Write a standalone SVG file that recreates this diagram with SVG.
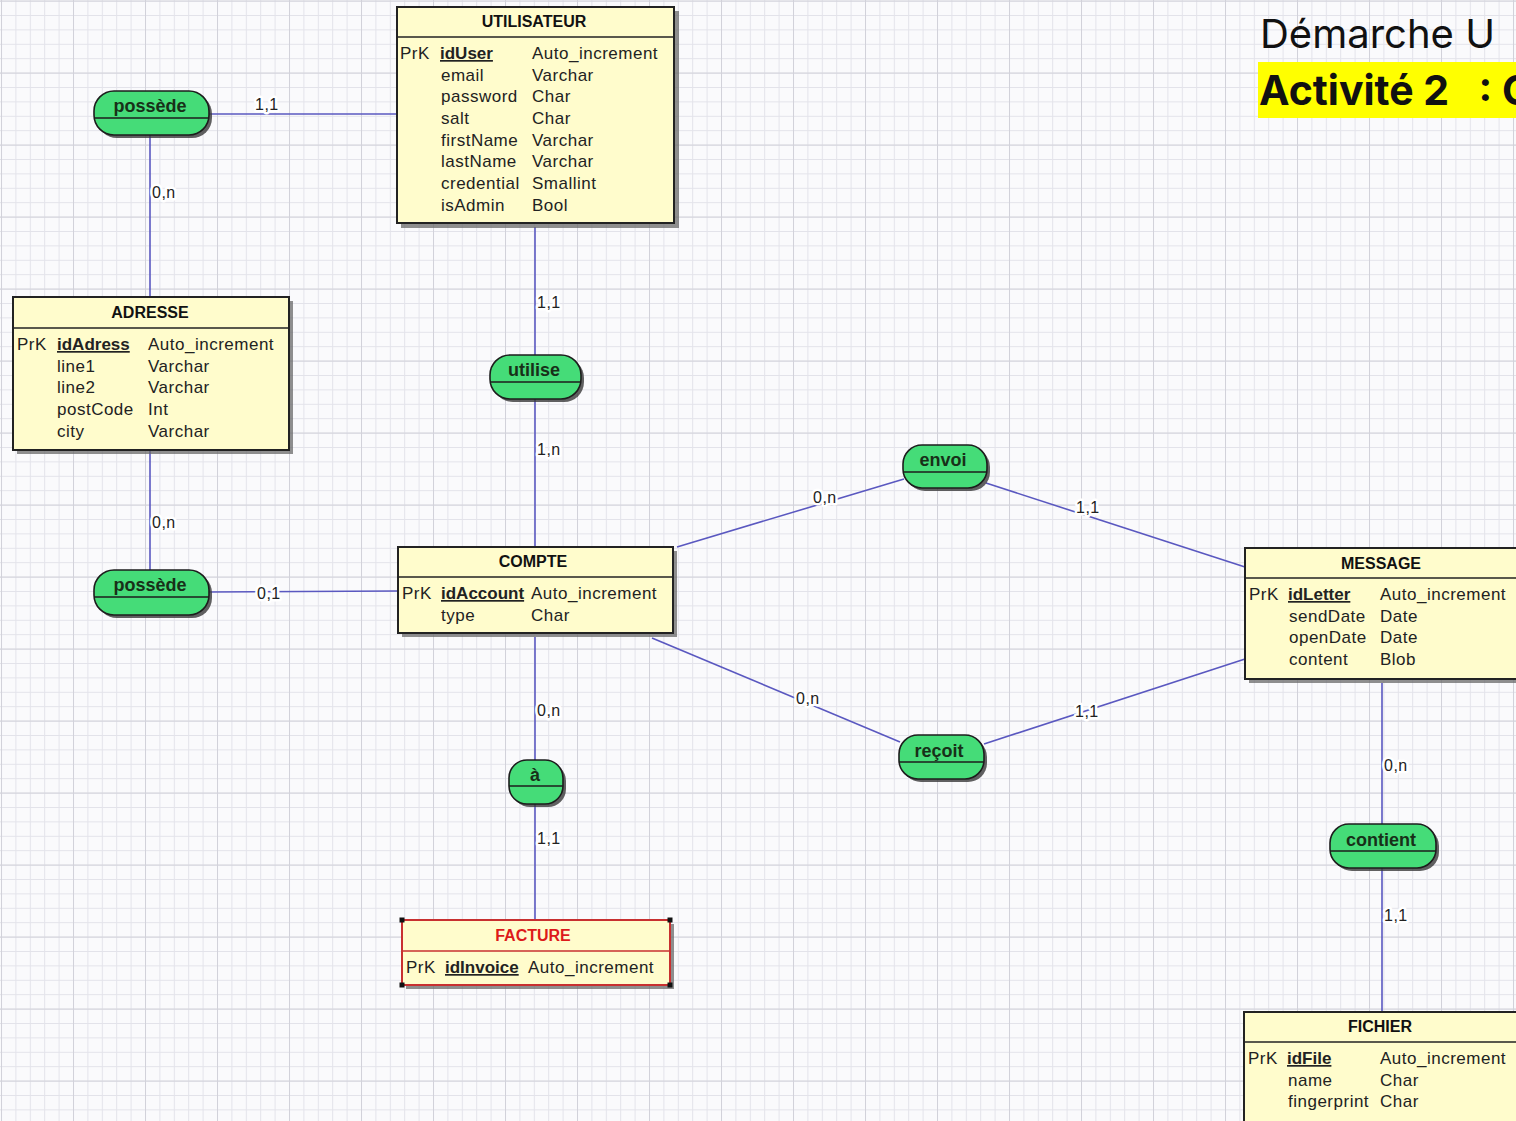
<svg xmlns="http://www.w3.org/2000/svg" width="1516" height="1121" viewBox="0 0 1516 1121">
<defs>
<pattern id="gmin" width="14.4" height="14.4" patternUnits="userSpaceOnUse" x="1" y="0.6">
<path d="M0 0.5H14.4M0.5 0V14.4" fill="none" stroke="#e3e3ea" stroke-width="1"/>
</pattern>
<pattern id="gmaj" width="72" height="72" patternUnits="userSpaceOnUse" x="1" y="0.6">
<path d="M0 0.5H72M0.5 0V72" fill="none" stroke="#d2d2da" stroke-width="1"/>
</pattern>
<style>
.ent{fill:#fffccc;stroke:#222;stroke-width:2}
.sh{fill:#6a6a6a;opacity:.75}
.t{font-family:"Liberation Sans",Arial,sans-serif;font-size:17px;letter-spacing:0.5px;fill:#222}
.h{font-family:"Liberation Sans",Arial,sans-serif;font-size:16px;font-weight:bold;fill:#111;text-anchor:middle}
.pk{font-weight:bold;text-decoration:underline;letter-spacing:0}
.bub{fill:#45dc78;stroke:#1d1d1d;stroke-width:1.6}
.bsh{fill:#3a3a3a;opacity:.8}
.bt{font-family:"Liberation Sans",Arial,sans-serif;font-size:18px;font-weight:bold;fill:#183018;text-anchor:middle}
.c{stroke:#5a58c0;stroke-width:1.6;fill:none}
.cl{font-family:"Liberation Sans",Arial,sans-serif;font-size:16px;letter-spacing:0.5px;fill:#222;stroke:#fff;stroke-width:5;paint-order:stroke;stroke-linejoin:round}
</style>
</defs>
<rect width="1516" height="1121" fill="#fafafc"/>
<rect width="1516" height="1121" fill="url(#gmin)"/>
<rect width="1516" height="1121" fill="url(#gmaj)"/>

<g id="connectors">
<path class="c" d="M209 114H397"/>
<path class="c" d="M150 135V297"/>
<path class="c" d="M150 450V571"/>
<path class="c" d="M209 592L397 591"/>
<path class="c" d="M535 227V355"/>
<path class="c" d="M535 399V547"/>
<path class="c" d="M535 637V760"/>
<path class="c" d="M535 804V920"/>
<path class="c" d="M677 547L904 479"/>
<path class="c" d="M986 483L1245 567"/>
<path class="c" d="M652 638L900 742"/>
<path class="c" d="M984 744L1245 659"/>
<path class="c" d="M1382 683V825"/>
<path class="c" d="M1382 868V1012"/>
<text class="cl" x="255" y="110">1,1</text>
<text class="cl" x="152" y="198">0,n</text>
<text class="cl" x="152" y="528">0,n</text>
<text class="cl" x="257" y="599">0,1</text>
<text class="cl" x="537" y="308">1,1</text>
<text class="cl" x="537" y="455">1,n</text>
<text class="cl" x="537" y="716">0,n</text>
<text class="cl" x="537" y="844">1,1</text>
<text class="cl" x="813" y="503">0,n</text>
<text class="cl" x="1076" y="513">1,1</text>
<text class="cl" x="796" y="704">0,n</text>
<text class="cl" x="1075" y="717">1,1</text>
<text class="cl" x="1384" y="771">0,n</text>
<text class="cl" x="1384" y="921">1,1</text>
</g>

<g id="utilisateur">
<rect class="sh" x="401" y="11" width="278" height="217"/>
<rect class="ent" x="397" y="7" width="277" height="216"/>
<path d="M397 37H674" stroke="#222" stroke-width="1.5"/>
<text class="h" x="534" y="27">UTILISATEUR</text>
<text class="t" x="400" y="59">PrK</text>
<text class="t pk" x="440" y="59">idUser</text>
<text class="t" x="532" y="59">Auto_increment</text>
<text class="t" x="441" y="81">email</text><text class="t" x="532" y="81">Varchar</text>
<text class="t" x="441" y="102">password</text><text class="t" x="532" y="102">Char</text>
<text class="t" x="441" y="124">salt</text><text class="t" x="532" y="124">Char</text>
<text class="t" x="441" y="146">firstName</text><text class="t" x="532" y="146">Varchar</text>
<text class="t" x="441" y="167">lastName</text><text class="t" x="532" y="167">Varchar</text>
<text class="t" x="441" y="189">credential</text><text class="t" x="532" y="189">Smallint</text>
<text class="t" x="441" y="211">isAdmin</text><text class="t" x="532" y="211">Bool</text>
</g>

<g id="possede1">
<rect class="bsh" x="97" y="94" width="115" height="44" rx="20"/>
<rect class="bub" x="94" y="91" width="115" height="44" rx="20"/>
<path d="M94 118H209" stroke="#1d1d1d" stroke-width="1.5"/>
<text class="bt" x="150" y="112">possède</text>
</g>

<g id="adresse">
<rect class="sh" x="17" y="301" width="276" height="153"/>
<rect class="ent" x="13" y="297" width="276" height="153"/>
<path d="M13 328H289" stroke="#222" stroke-width="1.5"/>
<text class="h" x="150" y="318">ADRESSE</text>
<text class="t" x="17" y="350">PrK</text>
<text class="t pk" x="57" y="350">idAdress</text>
<text class="t" x="148" y="350">Auto_increment</text>
<text class="t" x="57" y="372">line1</text><text class="t" x="148" y="372">Varchar</text>
<text class="t" x="57" y="393">line2</text><text class="t" x="148" y="393">Varchar</text>
<text class="t" x="57" y="415">postCode</text><text class="t" x="148" y="415">Int</text>
<text class="t" x="57" y="437">city</text><text class="t" x="148" y="437">Varchar</text>
</g>

<g id="possede2">
<rect class="bsh" x="97" y="573" width="115" height="45" rx="20"/>
<rect class="bub" x="94" y="570" width="115" height="45" rx="20"/>
<path d="M94 597H209" stroke="#1d1d1d" stroke-width="1.5"/>
<text class="bt" x="150" y="591">possède</text>
</g>

<g id="utilise">
<rect class="bsh" x="493" y="358" width="91" height="44" rx="20"/>
<rect class="bub" x="490" y="355" width="91" height="44" rx="20"/>
<path d="M490 382H581" stroke="#1d1d1d" stroke-width="1.5"/>
<text class="bt" x="534" y="376">utilise</text>
</g>

<g id="compte">
<rect class="sh" x="402" y="551" width="275" height="86"/>
<rect class="ent" x="398" y="547" width="275" height="86"/>
<path d="M398 577H673" stroke="#222" stroke-width="1.5"/>
<text class="h" x="533" y="567">COMPTE</text>
<text class="t" x="402" y="599">PrK</text>
<text class="t pk" x="441" y="599">idAccount</text>
<text class="t" x="531" y="599">Auto_increment</text>
<text class="t" x="441" y="621">type</text><text class="t" x="531" y="621">Char</text>
</g>

<g id="a">
<rect class="bsh" x="512" y="763" width="54" height="44" rx="18"/>
<rect class="bub" x="509" y="760" width="54" height="44" rx="18"/>
<path d="M509 786H563" stroke="#1d1d1d" stroke-width="1.5"/>
<text class="bt" x="535" y="781">à</text>
</g>

<g id="facture">
<rect class="sh" x="406" y="924" width="268" height="65"/>
<rect x="402" y="920" width="268" height="65" fill="#fffccc" stroke="#c83030" stroke-width="2"/>
<path d="M402 951H670" stroke="#c83030" stroke-width="1.5"/>
<text class="h" x="533" y="941" style="fill:#dd1a1a">FACTURE</text>
<text class="t" x="406" y="973">PrK</text>
<text class="t pk" x="445" y="973">idInvoice</text>
<text class="t" x="528" y="973">Auto_increment</text>
<rect x="399.5" y="917.5" width="5" height="5" fill="#111"/>
<rect x="667.5" y="917.5" width="5" height="5" fill="#111"/>
<rect x="399.5" y="982.5" width="5" height="5" fill="#111"/>
<rect x="667.5" y="982.5" width="5" height="5" fill="#111"/>
</g>

<g id="envoi">
<rect class="bsh" x="906" y="448" width="84" height="43" rx="19"/>
<rect class="bub" x="903" y="445" width="84" height="43" rx="19"/>
<path d="M903 472H987" stroke="#1d1d1d" stroke-width="1.5"/>
<text class="bt" x="943" y="466">envoi</text>
</g>

<g id="recoit">
<rect class="bsh" x="902" y="738" width="85" height="44" rx="19"/>
<rect class="bub" x="899" y="735" width="85" height="44" rx="19"/>
<path d="M899 762H984" stroke="#1d1d1d" stroke-width="1.5"/>
<text class="bt" x="939" y="757">reçoit</text>
</g>

<g id="message">
<rect class="sh" x="1249" y="552" width="280" height="131"/>
<rect class="ent" x="1245" y="548" width="280" height="131"/>
<path d="M1245 578H1525" stroke="#222" stroke-width="1.5"/>
<text class="h" x="1381" y="569">MESSAGE</text>
<text class="t" x="1249" y="600">PrK</text>
<text class="t pk" x="1288" y="600">idLetter</text>
<text class="t" x="1380" y="600">Auto_increment</text>
<text class="t" x="1289" y="622">sendDate</text><text class="t" x="1380" y="622">Date</text>
<text class="t" x="1289" y="643">openDate</text><text class="t" x="1380" y="643">Date</text>
<text class="t" x="1289" y="665">content</text><text class="t" x="1380" y="665">Blob</text>
</g>

<g id="contient">
<rect class="bsh" x="1333" y="827" width="106" height="44" rx="19"/>
<rect class="bub" x="1330" y="824" width="106" height="44" rx="19"/>
<path d="M1330 851H1436" stroke="#1d1d1d" stroke-width="1.5"/>
<text class="bt" x="1381" y="846">contient</text>
</g>

<g id="fichier">
<rect class="sh" x="1248" y="1016" width="280" height="120"/>
<rect class="ent" x="1244" y="1012" width="280" height="120"/>
<path d="M1244 1042H1524" stroke="#222" stroke-width="1.5"/>
<text class="h" x="1380" y="1032">FICHIER</text>
<text class="t" x="1248" y="1064">PrK</text>
<text class="t pk" x="1287" y="1064">idFile</text>
<text class="t" x="1380" y="1064">Auto_increment</text>
<text class="t" x="1288" y="1086">name</text><text class="t" x="1380" y="1086">Char</text>
<text class="t" x="1288" y="1107">fingerprint</text><text class="t" x="1380" y="1107">Char</text>
</g>

<g id="title">
<text x="1260" y="48" font-family="Inter, 'Noto Sans', sans-serif" font-size="40" fill="#111">Démarche U</text>
<rect x="1258" y="62" width="258" height="56" fill="#ffff00"/>
<text x="1259" y="105" font-family="Inter, 'Noto Sans', sans-serif" font-size="41" font-weight="bold" fill="#111" style="white-space:pre">Activité 2 <tspan dx="10"> : C</tspan></text>
</g>
</svg>
